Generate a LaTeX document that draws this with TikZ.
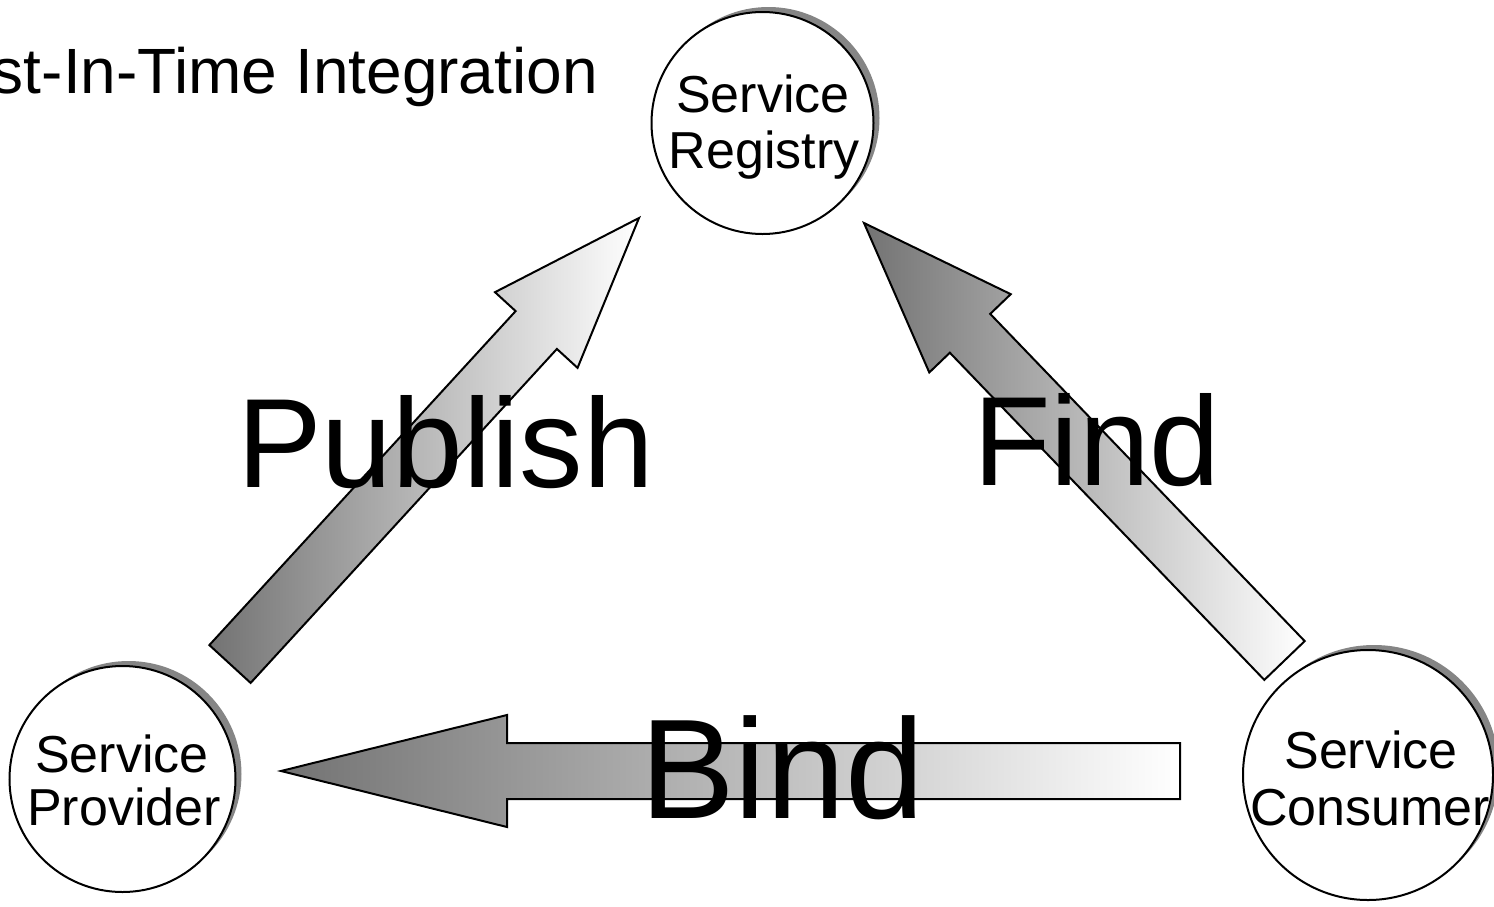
\documentclass[tikz,border=0pt]{standalone}
\usepackage{fontspec}
\setmainfont{Liberation Sans}
\usetikzlibrary{calc,shadows}
\tikzset{
  svc/.style={circle, draw=black, line width=2pt, fill=white, inner sep=0pt,
    drop shadow={shadow xshift=6pt, shadow yshift=5pt, fill=black!48, opacity=1}},
  svctext/.style={font=\fontsize{52}{57}\selectfont, anchor=base, inner sep=0pt},
  bigtext/.style={font=\fontsize{127}{130}\selectfont, anchor=base west, inner sep=0pt},
  blockshade/.style={draw=black, line width=2pt, line join=miter, left color=black!55, right color=white},
}
\newcommand\blockarrow[5]{%
  \path[blockshade] ($(#1)!#4!90:(#2)$) -- ($(#3)!#4!90:(#2)$) -- ($(#3)!#5!90:(#2)$) -- (#2)
    -- ($(#3)!#5!-90:(#2)$) -- ($(#3)!#4!-90:(#2)$) -- ($(#1)!#4!-90:(#2)$) -- cycle;}
\begin{document}
\begin{tikzpicture}[x=1pt,y=-1pt]
\useasboundingbox (0,0) rectangle (1494,906);

% service circles
\node[svc, minimum size=222pt] (reg) at (762.5,123) {};
\node[svc, minimum size=226pt] (prov) at (122.5,779) {};
\node[svc, minimum size=250pt] (cons) at (1368,775) {};

\node[svctext] (regA) at (763,112) {Service};
\node[svctext] (regB) at (764,168) {Registry};
\node[svctext] (provA) at (122,772) {Service};
\node[svctext] (provB) at (124,825) {Provider};
\node[svctext] (consA) at (1371,768) {Service};
\node[svctext] (consB) at (1370,825) {Consumer};

% block arrows
\coordinate (pubTail) at (230,664);
\coordinate (pubTip) at (639,218);
\coordinate (pubBase) at ($(pubTip)!152pt!(pubTail)$);
\blockarrow{pubTail}{pubTip}{pubBase}{28pt}{56pt}

\coordinate (findTail) at (1284.5,660.5);
\coordinate (findTip) at (864,223);
\coordinate (findBase) at ($(findTip)!153pt!(findTail)$);
\blockarrow{findTail}{findTip}{findBase}{28pt}{56.5pt}

\coordinate (bindTail) at (1180,771);
\coordinate (bindTip) at (281,771);
\coordinate (bindBase) at ($(bindTip)!226pt!(bindTail)$);
\blockarrow{bindTail}{bindTip}{bindBase}{28pt}{56pt}

% labels
\node[font=\fontsize{64}{68}\selectfont, anchor=base east, inner sep=0pt] (title) at (598,93) {Just-In-Time Integration};
\node[bigtext] (pubtxt) at (237,487) {Publish};
\node[bigtext] (findtxt) at (973,485) {Find};
\node[bigtext, font=\fontsize{142}{146}\selectfont] (bindtxt) at (640,818) {Bind};
\end{tikzpicture}
\end{document}
